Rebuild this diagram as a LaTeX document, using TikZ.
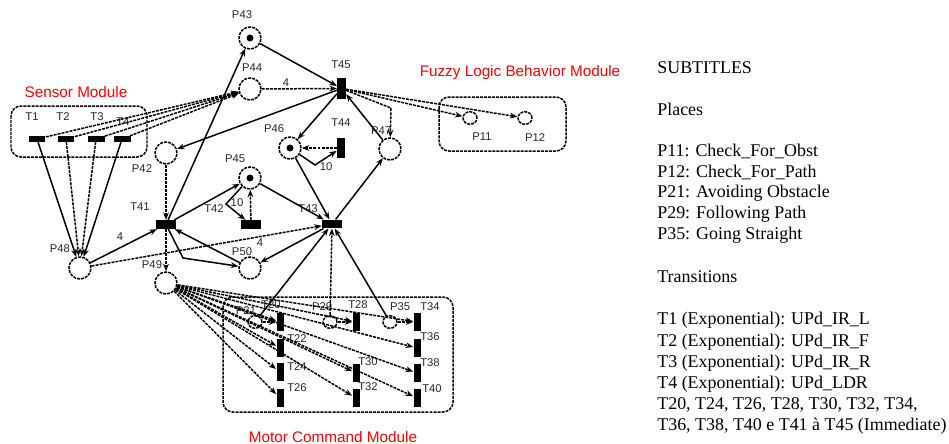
\documentclass[tikz,border=0pt]{standalone}
\usepackage{fontspec}
\setmainfont{Liberation Serif}
\newfontfamily\arial{Liberation Sans}
\usetikzlibrary{arrows.meta,shapes.geometric}
\begin{document}
\begin{tikzpicture}[x=0.02cm,y=-0.02cm,
  ln/.style={line width=0.85pt},
  dsh/.style={dash pattern=on 1.7pt off 0.6pt},
  arc/.style={ln,-{Stealth[length=1.5mm,width=1.15mm]}},
  darc/.style={arc,dsh},
  place/.style={circle,draw,ln,dsh,minimum size=0.44cm,inner sep=0pt},
  splace/.style={ellipse,draw,ln,dsh,minimum width=0.28cm,minimum height=0.25cm,inner sep=0pt},
  vbar/.style={rectangle,fill=black,minimum width=0.14cm,minimum height=0.37cm,inner sep=0pt},
  hbar/.style={rectangle,fill=black,minimum width=0.4cm,minimum height=0.17cm,inner sep=0pt},
  sbar/.style={rectangle,fill=black,minimum width=0.34cm,minimum height=0.11cm,inner sep=0pt},
  lbl/.style={font=\arial\fontsize{6.4}{7}\selectfont,text=black!85,inner sep=0pt},
  mod/.style={font=\arial\fontsize{8.7}{10}\selectfont,text=red,inner sep=0pt},
  leg/.style={font=\fontsize{10.2}{12}\selectfont,anchor=west,inner sep=0pt},
  box/.style={draw,ln,dsh,rounded corners=0.2cm}
]
\useasboundingbox (0,0) rectangle (949,443);

% module boxes
\draw[box] (11,106) rectangle (147,157);
\draw[box] (439,97) rectangle (566,151);
\draw[box] (223,297) rectangle (453,412);
\node[mod] (mS) at (76,92) {Sensor Module};
\node[mod] (mF) at (520,73) {Fuzzy Logic Behavior Module};
\node[mod] (mM) at (333,437) {Motor Command Module};

% places
\node[place] (P43) at (250,38) {};
\node[place] (P44) at (250,89) {};
\node[place] (P42) at (166,153) {};
\node[place] (P46) at (290,148) {};
\node[place] (P47) at (390,149) {};
\node[place] (P45) at (250,178) {};
\node[place] (P48) at (80,268) {};
\node[place] (P49) at (166,283) {};
\node[place] (P50) at (250,268) {};
\node[splace] (P11) at (470,118) {};
\node[splace] (P12) at (525,118) {};
\node[splace] (P21) at (255,322) {};
\node[splace] (P29) at (330,322) {};
\node[splace] (P35) at (390,322) {};
\fill (P43) circle (0.07cm);
\fill (P46) circle (0.07cm);
\fill (P45) circle (0.07cm);

% transitions
\node[sbar] (T1) at (37,139) {};
\node[sbar] (T2) at (66,139) {};
\node[sbar] (T3) at (96,139) {};
\node[sbar] (T4) at (122,139) {};
\node[vbar,minimum width=0.17cm,minimum height=0.42cm] (T45) at (341.5,88.5) {};
\node[vbar,minimum width=0.16cm,minimum height=0.4cm] (T44) at (341,148) {};
\node[hbar] (T41) at (166,224.5) {};
\node[hbar] (T42) at (251,224.5) {};
\node[hbar] (T43) at (332,224) {};
\node[vbar] (T20) at (280,322) {};
\node[vbar] (T22) at (280,348) {};
\node[vbar] (T24) at (280,372) {};
\node[vbar] (T26) at (280,398) {};
\node[vbar] (T28) at (356,322) {};
\node[vbar] (T30) at (356,373) {};
\node[vbar] (T32) at (356,398) {};
\node[vbar] (T34) at (417,322) {};
\node[vbar] (T36) at (417,348) {};
\node[vbar] (T38) at (417,373) {};
\node[vbar] (T40) at (417,398) {};

% labels
\node[lbl] (lT1) at (32,117) {T1};
\node[lbl] (lT2) at (63,117) {T2};
\node[lbl] (lT3) at (97,117) {T3};
\node[lbl] (lT4) at (123,122) {T4};
\node[lbl] (lP43) at (242,15) {P43};
\node[lbl] (lP44) at (252,68) {P44};
\node[lbl] (lT45) at (341,65) {T45};
\node[lbl] (lP42) at (142,169) {P42};
\node[lbl] (lP46) at (274,129) {P46};
\node[lbl] (lT44) at (341,123) {T44};
\node[lbl] (lP47) at (381,131) {P47};
\node[lbl] (lP45) at (235,159) {P45};
\node[lbl] (lT41) at (140,207) {T41};
\node[lbl] (lT42) at (214,209) {T42};
\node[lbl] (lT43) at (308,209) {T43};
\node[lbl] (lP48) at (60,249) {P48};
\node[lbl] (lP49) at (152,265) {P49};
\node[lbl] (lP50) at (242,252) {P50};
\node[lbl] (lP11) at (482,137) {P11};
\node[lbl] (lP12) at (535,138) {P12};
\node[lbl] (lP21) at (246,311) {P21};
\node[lbl] (lT20) at (271,305) {T20};
\node[lbl] (lP29) at (322,307) {P29};
\node[lbl] (lT28) at (358,305) {T28};
\node[lbl] (lP35) at (400,307) {P35};
\node[lbl] (lT34) at (430,307) {T34};
\node[lbl] (lT22) at (297,339) {T22};
\node[lbl] (lT24) at (297,367) {T24};
\node[lbl] (lT26) at (297,388) {T26};
\node[lbl] (lT30) at (368,362) {T30};
\node[lbl] (lT32) at (368,387) {T32};
\node[lbl] (lT36) at (430,337) {T36};
\node[lbl] (lT38) at (430,363) {T38};
\node[lbl] (lT40) at (432,389) {T40};
\node[lbl] (w1) at (286,83) {4};
\node[lbl] (w2) at (120,237) {4};
\node[lbl] (w3) at (260,243) {4};
\node[lbl] (w4) at (237,203) {10};
\node[lbl] (w5) at (326,167) {10};

% bend points
\coordinate (b1) at (226,204);
\coordinate (b2) at (183,258);
\coordinate (b3) at (315,165);
\coordinate (b4) at (391,108);

% sensor arcs
\foreach \t in {T1,T2,T3,T4} {\draw[darc] (\t) -- (P44);}
\draw[arc] (T1) -- (P48);
\draw[darc] (T2) -- (P48);
\draw[darc] (T3) -- (P48);
\draw[arc] (T4) -- (P48);

% central arcs
\draw[arc] (P48) -- (T41);
\draw[darc] (P48) -- (T43);
\draw[arc] (T41) -- (P43);
\draw[arc] (P43) -- (T45);
\draw[darc] (P44) -- (T45);
\draw[arc] (T45) -- (P42);
\draw[darc] (P42) -- (T41);
\draw[darc] (T41) -- (P49);
\draw[arc] (T41) -- (P45);
\draw[arc] (P45) -- (b1) -- (T42);
\draw[darc] (T42) -- (P45);
\draw[arc] (P45) -- (T43);
\draw[arc] (T41) -- (b2) -- (P50);
\draw[arc] (P50) -- (T41);
\draw[arc] (T43) -- (P50);
\draw[arc] (T43) -- (P47);
\draw[arc] (P46) -- (T43);
\draw[arc] (T45) -- (P46);
\draw[darc] (T44) -- (P46);
\draw[arc] (P46) -- (b3) -- (T44);
\draw[arc] (P47) -- (T45);
\draw[darc] (T45) -- (b4) -- (P47);
\draw[darc] (T45) -- (P11);
\draw[darc] (T45) -- (P12);

% motor arcs
\draw[arc] (P21) -- (T43);
\draw[darc] (P29) -- (T43);
\draw[arc] (P35) -- (T43);
\draw[darc] (P21) -- (T20);
\draw[darc] (P29) -- (T28);
\draw[darc] (P35) -- (T34);
\foreach \t in {T20,T22,T24,T26,T28,T30,T32,T34,T36,T38,T40} {\draw[darc] (P49) -- (\t);}

% legend
\node[leg] (g1) at (657,68) {SUBTITLES};
\node[leg] (g2) at (657,109) {Places};
\node[leg] (g3) at (657,151) {P11: Check\_For\_Obst};
\node[leg] (g4) at (657,172) {P12: Check\_For\_Path};
\node[leg] (g5) at (657,193) {P21: Avoiding Obstacle};
\node[leg] (g6) at (657,214) {P29: Following Path};
\node[leg] (g7) at (657,235) {P35: Going Straight};
\node[leg] (g8) at (657,277) {Transitions};
\node[leg] (g9) at (657,320) {T1 (Exponential): UPd\_IR\_L};
\node[leg] (g10) at (657,342) {T2 (Exponential): UPd\_IR\_F};
\node[leg] (g11) at (657,363) {T3 (Exponential): UPd\_IR\_R};
\node[leg] (g12) at (657,384) {T4 (Exponential): UPd\_LDR};
\node[leg] (g13) at (657,405) {T20, T24, T26, T28, T30, T32, T34,};
\node[leg] (g14) at (657,426) {T36, T38, T40 e T41 à T45 (Immediate)};
\end{tikzpicture}
\end{document}
